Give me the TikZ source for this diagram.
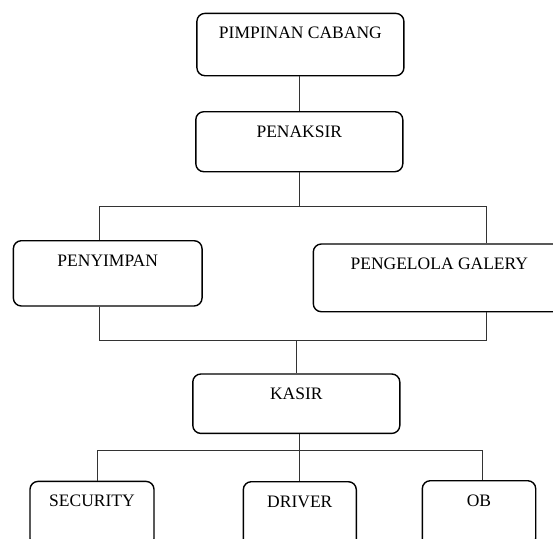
\documentclass[tikz,border=0pt]{standalone}
\usepackage{fontspec}
\setmainfont{Liberation Serif}
\usepackage{tikz}
\tikzset{
  box/.style={draw, rounded corners=8pt, line width=1.4pt, anchor=north,
    inner xsep=0pt, inner ysep=0pt, text height=25.3pt,
    font=\fontsize{17.5}{20}\selectfont},
  link/.style={draw=black!80, line width=0.9pt}
}

\begin{document}
\begin{tikzpicture}[x=1pt,y=-1pt]
  \useasboundingbox (0,0) rectangle (553,538);
  \clip (0,0) rectangle (553,538);
  \node[box, minimum width=207pt, text depth=37pt] (pimpinan) at (300.4,12.7) {PIMPINAN CABANG};
  \node[box, minimum width=207pt, text depth=34.7pt] (penaksir) at (299.3,111) {PENAKSIR};
  \node[box, minimum width=188.7pt, text depth=40pt] (penyimpan) at (107.7,240) {PENYIMPAN};
  \node[box, minimum width=252pt, text depth=42.4pt] (pengelola) at (439.3,243.3) {PENGELOLA GALERY};
  \node[box, minimum width=207pt, text depth=34.1pt] (kasir) at (296.3,373.3) {KASIR};
  \node[box, minimum width=124pt, text depth=40pt] (security) at (92,480.7) {SECURITY};
  \node[box, minimum width=113pt, text depth=40pt] (driver) at (299.8,481) {DRIVER};
  \node[box, minimum width=113.4pt, text depth=40pt] (ob) at (479,480) {OB};
  % bars and tap points
  \coordinate (top bar) at (0,206);
  \coordinate (mid bar) at (0,340.7);
  \coordinate (low bar) at (0,450.7);
  \coordinate (tap1) at (99.5,0);
  \coordinate (tap2) at (486.8,0);
  \coordinate (tap3) at (97.3,0);
  \coordinate (tap4) at (482.3,0);
  \draw[link] (pimpinan.south -| penaksir) -- (penaksir);
  \draw[link] (penaksir) -- (penaksir |- top bar);
  \draw[link] (penyimpan.north -| tap1) |- (top bar -| tap2) -- (pengelola.north -| tap2);
  \draw[link] (penyimpan.south -| tap1) |- (mid bar -| tap2) -- (pengelola.south -| tap2);
  \draw[link] (mid bar -| kasir) -- (kasir);
  \draw[link] (kasir.south -| driver) -- (driver);
  \draw[link] (security.north -| tap3) |- (low bar -| tap4) -- (ob.north -| tap4);
\end{tikzpicture}
\end{document}
